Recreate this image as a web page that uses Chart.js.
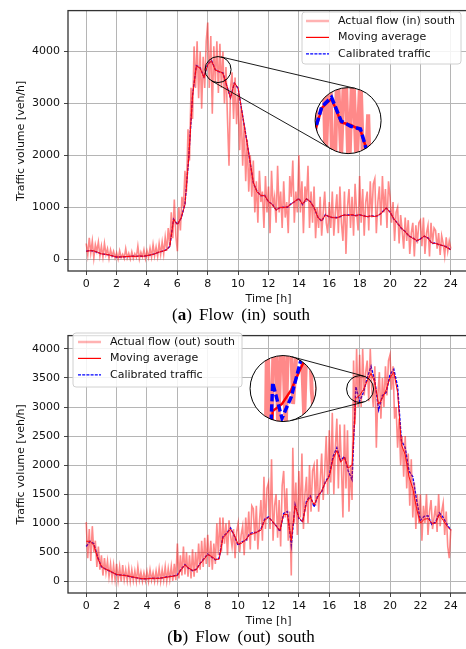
<!DOCTYPE html>
<html>
<head>
<meta charset="utf-8">
<script src="https://cdn.jsdelivr.net/npm/chart.js@4"></script>
<style>
  body { margin: 0; background: #fff; width: 466px; height: 649px; overflow: hidden; position: relative; }
  canvas { position: absolute; left: 0; }
  #chartIn { top: 0; }
  #chartOut { top: 325px; }
  .caption { position: absolute; left: 0; width: 482px; text-align: center; font: 17px "Liberation Serif", serif; word-spacing: 3px; line-height: 20px; color: #000; }
</style>
</head>
<body>
<canvas id="chartIn" width="472" height="325"></canvas>
<canvas id="chartOut" width="472" height="322"></canvas>
<div class="caption" style="top:305px">(<b>a</b>) Flow (in) south</div>
<div class="caption" style="top:627px">(<b>b</b>) Flow (out) south</div>
<script>
// raw detector counts, one value every 6 minutes (0..24 h)
const noiseIn = [
  300, 80, 410, 120, 350, 20, 280, 150, 330, 60,
  250, 40, 300, 90, 200, 10, 180, 60, 150, 20,
  120, 0, 160, 30, 90, 10, 200, 20, 110, 0,
  140, 10, 100, 30, 250, 0, 130, 40, 180, 10,
  160, 30, 210, 40, 280, 60, 230, 50, 300, 90,
  330, 100, 420, 160, 600, 250, 900, 400, 1150, 450,
  150, 1000, 550, 1200, 1000, 1700, 1300, 2500, 1900, 3300,
  2700, 4100, 3300, 4200, 3100, 4000, 2900, 3900, 3300, 4200,
  4560, 3300, 4300, 2800, 4100, 3400, 4200, 3200, 4150, 3300,
  4000, 3000, 3700, 2700, 1800, 3300, 3600, 2700, 3500, 2600,
  3200, 2100, 2900, 1800, 2600, 1500, 2300, 1300, 2000, 1200,
  1900, 900, 1500, 700, 1700, 1100, 1300, 600, 1600, 900,
  1400, 500, 1700, 1000, 1200, 700, 1800, 900, 1300, 600,
  1500, 800, 1100, 500, 1600, 1200, 1900, 700, 1300, 900,
  2000, 900, 1500, 500, 1400, 1100, 1800, 600, 1300, 700,
  1400, 400, 1000, 600, 1200, 450, 900, 1300, 700, 500,
  1100, 600, 1300, 450, 900, 1250, 500, 1400, 700, 350,
  1300, 100, 1000, 1350, 600, 1200, 450, 1450, 900, 550,
  1600, 700, 1350, 450, 1100, 1300, 550, 1500, 800, 1450,
  1550, 500, 1100, 1400, 650, 1600, 900, 1350, 600, 1500,
  1200, 700, 1100, 350, 900, 1000, 300, 850, 550, 200,
  800, 350, 750, 100, 500, 700, 50, 650, 300, 700,
  750, 250, 800, 100, 500, 650, 50, 700, 300, 600,
  550, 200, 500, 80, 450, 300, 60, 420, 150, 350,
  200
];
// moving average and calibrated traffic, every 15 minutes
const avgIn = [
  150, 160, 160, 130, 100, 95, 80, 60, 40, 40, 45, 50, 55, 50, 60, 55,
  65, 80, 100, 130, 150, 170, 240, 760, 670, 790, 1050, 1950, 3150, 3720, 3680, 3500,
  3750, 3820, 3640, 3620, 3580, 3350, 3100, 3400, 3300, 2850, 2400, 1950, 1480, 1290, 1230, 1220,
  1110, 1050, 940, 1000, 990, 1010, 1060, 1120, 1160, 1060, 1170, 1100, 1000, 800, 740, 850,
  820, 800, 790, 830, 850, 840, 860, 830, 860, 830, 820, 830, 820, 850, 900, 990,
  900, 780, 680, 600, 520, 450, 400, 360, 380, 450, 400, 310, 300, 280, 260, 220,
  180
];
const calibIn = [
  150, 165, 155, 130, 100, 90, 80, 60, 40, 42, 45, 48, 55, 52, 58, 55,
  65, 82, 100, 128, 150, 175, 245, 770, 665, 790, 1060, 1960, 3160, 3730, 3690, 3510,
  3760, 3830, 3650, 3610, 3590, 3340, 3110, 3390, 3290, 2840, 2410, 1940, 1470, 1300, 1220, 1230,
  1100, 1060, 950, 990, 1000, 1000, 1070, 1110, 1170, 1050, 1160, 1110, 990, 810, 730, 860,
  810, 800, 800, 820, 850, 850, 850, 840, 850, 840, 810, 840, 820, 840, 910, 980,
  910, 770, 690, 590, 530, 440, 410, 350, 390, 440, 410, 300, 310, 270, 260, 230,
  180
];

const noiseOut = [
  1020, 400, 900, 350, 950, 500, 700, 250, 600, 200,
  450, 100, 400, 150, 350, 80, 300, 50, 280, 30,
  300, 20, 250, 0, 280, 30, 200, 10, 230, 0,
  200, 10, 180, 0, 250, 20, 160, 0, 150, 10,
  170, 0, 200, 20, 150, 0, 180, 10, 220, 0,
  200, 20, 250, 0, 220, 30, 260, 10, 300, 20,
  650, 50, 450, 100, 600, 120, 500, 80, 450, 50,
  550, 80, 500, 150, 650, 200, 700, 250, 750, 300,
  800, 250, 700, 200, 650, 300, 1000, 450, 1100, 500,
  1100, 650, 1000, 450, 1050, 800, 600, 900, 400, 850,
  1000, 500, 800, 950, 450, 1100, 700, 1200, 550, 1300,
  1250, 700, 1300, 550, 1000, 1400, 700, 1800, 900, 1600,
  1700, 900, 2100, 700, 1300, 1500, 750, 1400, 600, 1650,
  1900, 1100, 1600, 700, 1200, 100, 2300, 1000, 1700, 800,
  1900, 1100, 2200, 900, 1500, 1800, 1000, 2000, 1200, 1900,
  2000, 1300, 2100, 1200, 1700, 2200, 1400, 1900, 2500, 1500,
  2600, 1700, 2900, 1500, 2300, 2800, 1600, 2700, 2000, 1100,
  2700, 1600, 2600, 1200, 2000, 1400, 3800, 2700, 4000, 3000,
  3900, 3000, 4000, 3200, 3600, 3800, 3100, 4000, 3300, 3000,
  3700, 2300, 3200, 3600, 2800, 3500, 3000, 3700, 3200, 3800,
  3900, 3300, 3700, 2800, 3000, 2300, 2800, 2000, 2500, 1800,
  2500, 1600, 2200, 1300, 2100, 1100, 1700, 900, 1500, 1000,
  1500, 700, 1300, 1000, 1500, 800, 1200, 1400, 900, 1100,
  1300, 850, 1500, 950, 1200, 1350, 800, 1200, 600, 400,
  900
];
const avgOut = [
  690, 690, 620, 400, 260, 210, 190, 150, 120, 110, 100, 95, 80, 65, 55, 45,
  45, 50, 55, 50, 60, 70, 80, 90, 100, 200, 280, 230, 190, 200, 300, 380,
  460, 430, 380, 380, 750, 820, 900, 800, 640, 660, 720, 800, 820, 850, 880, 1050,
  1100, 1040, 950, 880, 1150, 1150, 700, 1300, 1100, 1020, 1350, 1450, 1320, 1450, 1560, 1700,
  1800, 2100, 2250, 2050, 2130, 1950, 2000, 3150, 3200, 3300, 3450, 3580, 3420, 3050, 3150, 3300,
  3500, 3600, 3250, 2350, 2180, 1800, 1600, 1250, 1000, 1070, 1080, 1000, 1000, 1150, 1050, 950,
  880
];
const calibOut = [
  600, 690, 650, 420, 250, 215, 180, 150, 115, 110, 105, 90, 75, 65, 50, 45,
  45, 55, 50, 55, 60, 75, 85, 95, 110, 210, 290, 220, 185, 210, 310, 390,
  470, 420, 370, 400, 770, 830, 920, 780, 620, 680, 700, 820, 840, 840, 900, 1070,
  1110, 1030, 960, 860, 1170, 1200, 620, 1320, 1080, 1030, 1380, 1470, 1280, 1480, 1540, 1720,
  1820, 2150, 2300, 2080, 2150, 1900, 1750, 3350, 3100, 3250, 3500, 3700, 3450, 2950, 3200, 3250,
  3560, 3650, 3350, 2420, 2300, 1900, 1800, 1400, 1050, 1120, 1130, 980, 1020, 1180, 1100, 980,
  880
];

const hourTicks = [0, 2, 4, 6, 8, 10, 12, 14, 16, 18, 20, 22, 24];
const volumeTicksIn = [0, 1000, 2000, 3000, 4000];
const volumeTicksOut = [0, 500, 1000, 1500, 2000, 2500, 3000, 3500, 4000];

Chart.defaults.font.family = "'DejaVu Sans'";
Chart.defaults.font.size = 11;
Chart.defaults.color = "#111";

function toPoints(values, perHour) {
  return values.map((v, i) => ({ x: i / perHour, y: v }));
}

function makeOverlay(box, inset) {
  return {
    id: "overlay",
    afterDatasetsDraw(chart) {
      const { ctx, chartArea: area, scales: { x, y } } = chart;
      const sx = x.getPixelForValue(inset.h);
      const sy = y.getPixelForValue(inset.v);
      const bx = x.getPixelForValue(inset.bigH);
      const by = y.getPixelForValue(inset.bigV);
      const k = inset.R / inset.r;

      ctx.save();
      // connector lines (outer tangents)
      const th = Math.atan2(by - sy, bx - sx);
      const al = Math.acos((inset.r - inset.R) / Math.hypot(bx - sx, by - sy));
      ctx.beginPath();
      [th + al, th - al].forEach((ang) => {
        ctx.moveTo(sx + inset.r * Math.cos(ang), sy + inset.r * Math.sin(ang));
        ctx.lineTo(bx + inset.R * Math.cos(ang), by + inset.R * Math.sin(ang));
      });
      ctx.strokeStyle = "#000";
      ctx.lineWidth = 0.9;
      ctx.stroke();

      // magnified view
      ctx.save();
      ctx.beginPath();
      ctx.arc(bx, by, inset.R, 0, Math.PI * 2);
      ctx.fillStyle = "#fff";
      ctx.fill();
      ctx.clip();
      ctx.translate(bx, by);
      ctx.scale(k, k);
      ctx.translate(-sx, -sy);
      chart.data.datasets.forEach((ds, i) => {
        const pts = chart.getDatasetMeta(i).data;
        ctx.beginPath();
        pts.forEach((p, j) => (j ? ctx.lineTo(p.x, p.y) : ctx.moveTo(p.x, p.y)));
        ctx.strokeStyle = ds.borderColor;
        ctx.lineWidth = ds.borderWidth;
        ctx.setLineDash(ds.borderDash || []);
        ctx.stroke();
      });
      ctx.restore();

      ctx.beginPath();
      ctx.arc(bx, by, inset.R, 0, Math.PI * 2);
      ctx.moveTo(sx + inset.r, sy);
      ctx.arc(sx, sy, inset.r, 0, Math.PI * 2);
      ctx.strokeStyle = "#000";
      ctx.lineWidth = 1;
      ctx.stroke();

      // axes frame
      ctx.strokeStyle = "#333";
      ctx.lineWidth = 1.3;
      ctx.strokeRect(area.left, area.top, area.right - area.left, area.bottom - area.top);
      ctx.restore();
    },
    afterDraw(chart) {
      const { ctx } = chart;
      ctx.save();
      ctx.beginPath();
      ctx.roundRect(box.x, box.y, box.w, box.h, 3);
      ctx.fillStyle = "rgba(255,255,255,0.85)";
      ctx.fill();
      ctx.strokeStyle = "#d0d0d0";
      ctx.lineWidth = 1;
      ctx.stroke();
      ctx.font = "11px 'DejaVu Sans'";
      ctx.textBaseline = "middle";
      chart.data.datasets.forEach((ds, i) => {
        const ry = box.y + 9 + i * 16.4;
        ctx.beginPath();
        ctx.moveTo(box.x + box.pad, ry);
        ctx.lineTo(box.x + box.pad + 23, ry);
        ctx.strokeStyle = i === 0 ? "rgba(255,0,0,0.3)" : ds.borderColor;
        ctx.lineWidth = i === 0 ? 2.5 : 1.2;
        ctx.setLineDash(ds.borderDash || []);
        ctx.stroke();
        ctx.fillStyle = "#111";
        ctx.fillText(ds.label, box.x + box.pad + 32, ry);
      });
      ctx.restore();
    }
  };
}

function buildChart(id, cfg) {
  new Chart(document.getElementById(id), {
    type: "line",
    data: {
      datasets: [
        {
          label: cfg.noiseLabel,
          data: toPoints(cfg.noise, 10),
          borderColor: "rgba(255,20,20,0.5)",
          borderWidth: 1.6,
          pointRadius: 0
        },
        {
          label: "Moving average",
          data: toPoints(cfg.avg, 4),
          borderColor: "#ff0000",
          borderWidth: 1,
          pointRadius: 0
        },
        {
          label: "Calibrated traffic",
          data: toPoints(cfg.calib, 4),
          borderColor: "#0000ff",
          borderWidth: 1.4,
          borderDash: [3, 1.2],
          pointRadius: 0
        }
      ]
    },
    options: {
      responsive: false,
      animation: false,
      devicePixelRatio: 1,
      layout: { padding: { top: cfg.padTop, right: 3, left: 0, bottom: 0 } },
      plugins: { legend: { display: false }, tooltip: { enabled: false } },
      scales: {
        x: {
          type: "linear",
          min: -1.2,
          max: 25.2,
          afterBuildTicks: (s) => { s.ticks = hourTicks.map((v) => ({ value: v })); },
          afterFit: (s) => { s.height = 54; },
          ticks: { padding: 3, maxRotation: 0, color: "#111", callback: (v) => String(v) },
          grid: { color: "#b5b5b5", tickColor: "#444", tickLength: 4 },
          border: { display: false },
          title: { display: true, text: "Time [h]", padding: { top: 0, bottom: 19.5 }, color: "#111" }
        },
        y: {
          min: cfg.yMin,
          max: cfg.yMax,
          afterBuildTicks: (s) => { s.ticks = cfg.yTicks.map((v) => ({ value: v })); },
          afterFit: (s) => { s.width = 68; },
          ticks: { padding: 4, color: "#111", callback: (v) => String(v) },
          grid: { color: "#b5b5b5", tickColor: "#444", tickLength: 4 },
          border: { display: false },
          title: { display: true, text: "Traffic volume [veh/h]", padding: { top: 14.5, bottom: 0 }, color: "#111" }
        }
      }
    },
    plugins: [makeOverlay(cfg.box, cfg.inset)]
  });
}

buildChart("chartIn", {
  noiseLabel: "Actual flow (in) south",
  noise: noiseIn, avg: avgIn, calib: calibIn,
  yMin: -230, yMax: 4790, yTicks: volumeTicksIn, padTop: 6,
  box: { x: 302, y: 12, w: 159, h: 52, pad: 4 },
  inset: { h: 8.68, v: 3653, r: 13, bigH: 17.24, bigV: 2669, R: 33 }
});

buildChart("chartOut", {
  noiseLabel: "Actual flow (out) south",
  noise: noiseOut, avg: avgOut, calib: calibOut,
  yMin: -200, yMax: 4229, yTicks: volumeTicksOut, padTop: 3,
  box: { x: 73, y: 8, w: 169, h: 54, pad: 5 },
  inset: { h: 18.03, v: 3309, r: 13.5, bigH: 12.96, bigV: 3318, R: 33 }
});
</script>
</body>
</html>
